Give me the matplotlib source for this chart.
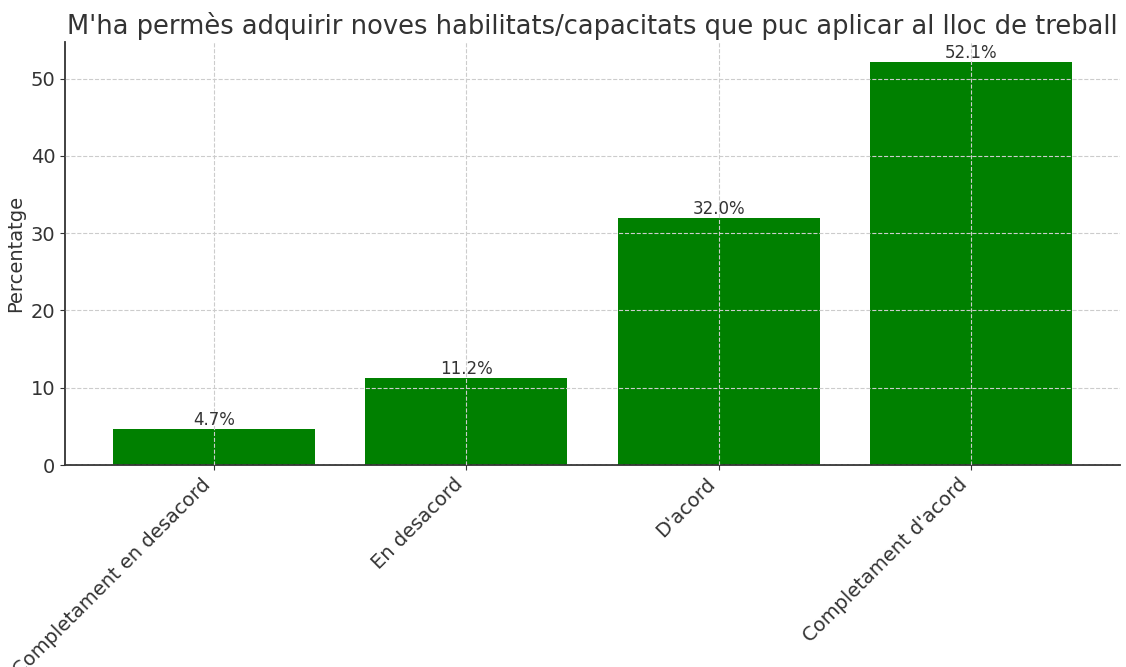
import matplotlib
matplotlib.use("Agg")
import matplotlib.pyplot as plt

# Dades
categories = ["Completament en desacord", "En desacord", "D'acord", "Completament d'acord"]
percentatges = [4.7, 11.2, 32.0, 52.1]

text_color = "#333333"

fig = plt.figure(figsize=(11.26, 6.67), dpi=100)
ax = fig.add_axes([0.0577, 0.3028, 0.937, 0.634])

bars = ax.bar(categories, percentatges, color="green", width=0.8)

# Etiquetes de valor sobre cada barra
for bar, val in zip(bars, percentatges):
    ax.text(bar.get_x() + bar.get_width() / 2, bar.get_height(), f"{val:.1f}%",
            ha="center", va="bottom", fontsize=12, color=text_color)

ax.set_title("M'ha permès adquirir noves habilitats/capacitats que puc aplicar al lloc de treball",
             fontsize=18.5, color=text_color, pad=6)
ax.set_ylabel("Percentatge", fontsize=14, color=text_color)

ax.set_axisbelow(False)
ax.grid(True, linestyle="--", color="#cccccc", linewidth=0.8)

ax.tick_params(axis="both", colors=text_color, labelsize=14)
plt.setp(ax.get_xticklabels(), rotation=45, ha="right")

for side in ["top", "right"]:
    ax.spines[side].set_visible(False)
for side in ["left", "bottom"]:
    ax.spines[side].set_color(text_color)
    ax.spines[side].set_linewidth(1.3)

fig.savefig("out.png", dpi=100)
